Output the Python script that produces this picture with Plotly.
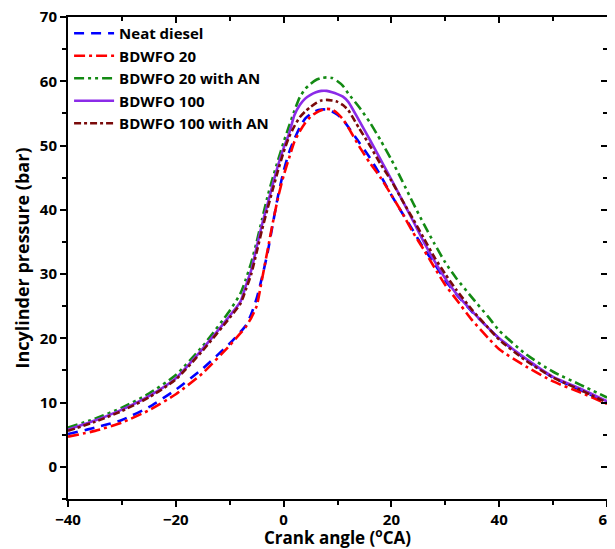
import plotly.graph_objects as go

crank_angle = [-40, -35, -30, -25, -20, -15, -10, -8, -7, -6, -5, -4, -3, -2, -1, 0,
               1, 2, 3, 4, 5, 6, 7, 8, 9, 10, 11, 12, 14, 16, 18, 20, 22, 24, 26, 28,
               30, 32, 35, 38, 40, 45, 50, 55, 60]

neat_diesel = [5.1, 6.1, 7.3, 9.3, 12.0, 15.3, 19.2, 21.0, 22.0, 23.8, 26.2, 29.5, 33.2, 37.8, 42.3, 46.0,
               48.9, 51.0, 52.8, 54.2, 54.9, 55.4, 55.6, 55.6, 55.3, 54.8, 54.0, 52.9, 50.5, 48.1, 45.3, 42.3, 39.5, 36.8, 34.0, 31.6,
               29.0, 26.9, 24.1, 21.6, 20.0, 16.7, 13.9, 12.0, 10.0]

bdwfo20 = [4.7, 5.6, 6.9, 8.8, 11.3, 14.6, 18.9, 20.8, 21.8, 23.2, 25.0, 29.2, 33.6, 38.0, 42.0, 45.3,
           48.0, 50.6, 52.2, 53.5, 54.5, 55.1, 55.5, 55.7, 55.6, 55.0, 54.1, 52.8, 49.9, 47.3, 45.0, 42.3, 39.5, 36.5, 33.8, 31.0,
           28.3, 26.1, 22.8, 20.0, 18.3, 15.6, 13.3, 11.6, 9.8]

bdwfo20_an = [6.1, 7.5, 9.2, 11.4, 14.3, 18.8, 24.3, 27.0, 29.2, 31.8, 35.0, 38.5, 42.0, 45.0, 47.8, 50.5,
              53.0, 55.4, 57.5, 58.8, 59.6, 60.2, 60.5, 60.6, 60.5, 60.0, 59.3, 58.1, 56.0, 53.6, 50.8, 47.8, 44.5, 41.1, 37.8, 34.7,
              31.8, 29.4, 26.3, 23.3, 21.2, 17.5, 14.8, 12.8, 10.8]

bdwfo100 = [5.8, 7.2, 8.9, 11.0, 13.8, 18.4, 23.5, 25.7, 28.2, 30.6, 34.2, 37.7, 40.8, 44.0, 47.0, 49.6,
            51.8, 54.7, 56.3, 57.3, 57.9, 58.3, 58.5, 58.5, 58.3, 58.0, 57.6, 56.8, 53.9, 50.9, 47.8, 44.7, 41.5, 38.3, 35.0, 32.0,
            29.3, 27.0, 24.2, 21.6, 20.0, 16.8, 14.0, 12.2, 10.2]

bdwfo100_an = [5.6, 7.0, 8.7, 10.8, 13.6, 18.1, 23.2, 25.4, 27.6, 30.0, 33.4, 36.9, 40.1, 43.2, 46.2, 49.0,
               51.3, 53.0, 54.4, 55.3, 56.0, 56.6, 57.0, 57.1, 57.0, 56.8, 56.3, 55.5, 52.7, 50.0, 47.1, 44.5, 41.5, 38.6, 35.6, 32.6,
               30.0, 27.6, 24.4, 21.6, 19.8, 16.5, 13.9, 12.0, 10.0]

series = [
    ("Neat diesel", neat_diesel, "#0000FF", "10px,7px"),
    ("BDWFO 20", bdwfo20, "#FF0000", "11px,4px,3px,4px"),
    ("BDWFO 20 with AN", bdwfo20_an, "#138A13", "10px,4px,3px,4px,3px,4px"),
    ("BDWFO 100", bdwfo100, "#8B2BE8", "solid"),
    ("BDWFO 100 with AN", bdwfo100_an, "#7A0A0A", "7px,3px,3px,3px"),
]

fig = go.Figure()
for name, vals, color, dash in series:
    fig.add_trace(go.Scatter(x=crank_angle, y=vals, mode="lines", name=name,
                             line=dict(color=color, width=2.6, dash=dash, shape="spline", smoothing=0.6)))

# dummy trace for top/right axes
fig.add_trace(go.Scatter(x=[0], y=[0], xaxis="x2", yaxis="y2", mode="markers",
                         marker=dict(opacity=0), showlegend=False, hoverinfo="skip"))

font_family = "Open Sans, Noto Sans, sans-serif"
tickfont = dict(family=font_family, size=15, color="black", weight="bold")

fig.update_layout(
    width=607, height=541,
    margin=dict(l=60, r=8, t=9, b=50, autoexpand=False),
    plot_bgcolor="white", paper_bgcolor="white",
    font=dict(family=font_family, color="black"),
    showlegend=True,
    legend=dict(x=0.002, y=1.0, xanchor="left", yanchor="top", bgcolor="rgba(0,0,0,0)",
                font=dict(family=font_family, size=15, color="black", weight="bold"),
                itemwidth=40, tracegroupgap=0, borderwidth=0),
    xaxis=dict(range=[-40, 60], tick0=-40, dtick=20, ticks="outside", ticklen=6, tickwidth=2,
               tickcolor="black", showline=True, linewidth=2, linecolor="black", automargin=False,
               showgrid=False, zeroline=False, tickfont=tickfont, ticklabeloverflow="allow",
               minor=dict(dtick=10, ticks="outside", ticklen=4, tickwidth=2, tickcolor="black", showgrid=False),
               title=dict(text="Crank angle (<sup>o</sup>CA)", standoff=8,
                          font=dict(family=font_family, size=17, color="black", weight="bold"))),
    yaxis=dict(range=[-5, 70], tick0=0, dtick=10, ticks="outside", ticklen=6, tickwidth=2,
               tickcolor="black", showline=True, linewidth=2, linecolor="black", automargin=False,
               showgrid=False, zeroline=False, tickfont=tickfont, ticklabeloverflow="allow",
               minor=dict(dtick=5, tick0=0, ticks="outside", ticklen=4, tickwidth=2, tickcolor="black", showgrid=False),
               title=dict(text="Incylinder pressure (bar)", standoff=6,
                          font=dict(family=font_family, size=18, color="black", weight="bold"))),
    xaxis2=dict(overlaying="x", side="top", anchor="y", matches="x", tick0=-40, dtick=20,
                ticks="inside", ticklen=6, tickwidth=2, tickcolor="black", showticklabels=False,
                showline=True, linewidth=2, linecolor="black", showgrid=False, zeroline=False,
                minor=dict(dtick=10, ticks="inside", ticklen=4, tickwidth=2, tickcolor="black", showgrid=False)),
    yaxis2=dict(overlaying="y", side="right", anchor="x", matches="y", tick0=0, dtick=10,
                ticks="inside", ticklen=6, tickwidth=2, tickcolor="black", showticklabels=False,
                showline=True, linewidth=2, linecolor="black", showgrid=False, zeroline=False,
                minor=dict(dtick=5, ticks="inside", ticklen=4, tickwidth=2, tickcolor="black", showgrid=False)),
)

fig.write_html("out.html")
